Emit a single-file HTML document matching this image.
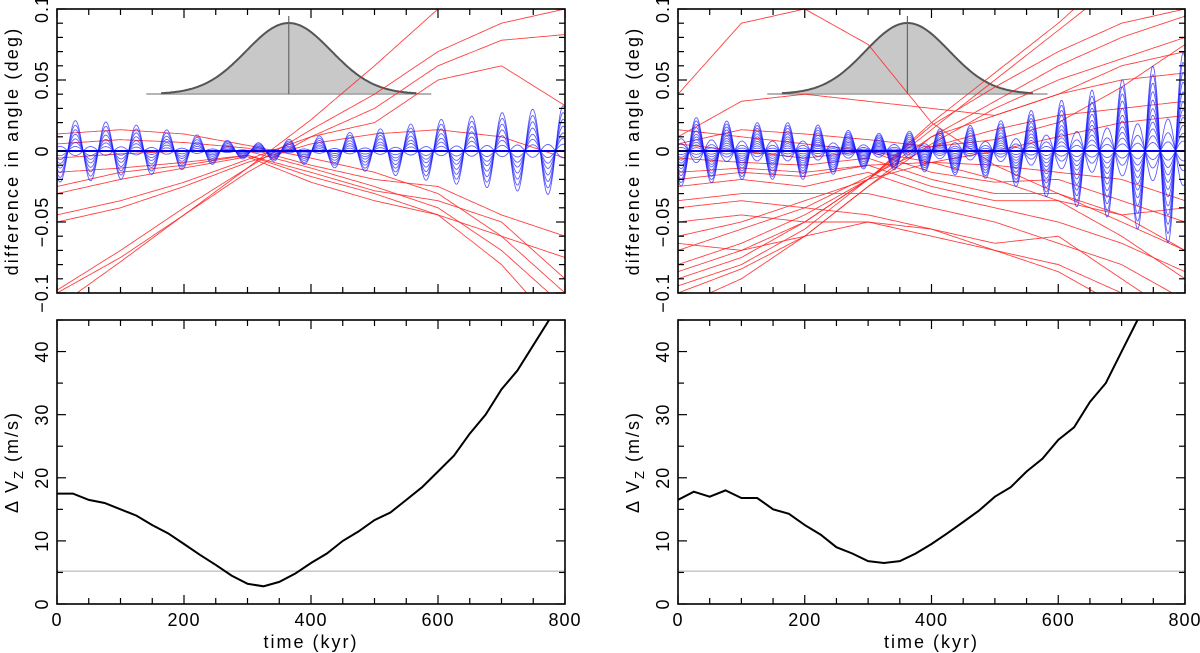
<!DOCTYPE html>
<html><head><meta charset="utf-8"><style>
html,body{margin:0;padding:0;background:#fff;}
svg{display:block;font-family:"Liberation Sans",sans-serif;}
</style></head><body>
<svg id="c" width="1200" height="653" viewBox="0 0 1200 653"></svg>
<script>
const times9=[0,100,200,300,400,500,600,700,800];
const leftRed=[
[-0.10,-0.075,-0.045,-0.012,0.022,0.06,0.10,0.14,0.18],
[-0.098,-0.07,-0.04,-0.012,0.015,0.04,0.07,0.09,0.10],
[-0.11,-0.078,-0.045,-0.015,0.01,0.03,0.06,0.078,0.082],
[-0.045,-0.035,-0.022,-0.006,0.01,0.02,0.05,0.06,0.032],
[-0.05,-0.04,-0.025,-0.008,0.005,0.012,0.015,0.01,-0.005],
[0.012,0.015,0.012,0.004,-0.005,-0.015,-0.03,-0.06,-0.10],
[0.005,0.008,0.006,0.002,-0.01,-0.02,-0.025,-0.045,-0.06],
[-0.005,-0.002,0.0,0.0,-0.012,-0.025,-0.04,-0.07,-0.11],
[-0.015,-0.012,-0.008,-0.003,-0.018,-0.03,-0.045,-0.08,-0.13],
[-0.03,-0.02,-0.012,-0.004,-0.022,-0.035,-0.045,-0.06,-0.075],
[-0.025,-0.015,-0.01,-0.003,-0.015,-0.028,-0.035,-0.05,-0.09]];
const rightRed=[
[0.04,0.09,0.1,0.12,0.14,0.16,0.18,0.2,0.22],
[0.12,0.105,0.1,0.075,0.02,-0.01,-0.03,-0.05,-0.07],
[0.01,0.035,0.04,0.035,0.03,0.025,0.04,0.06,0.07],
[0.005,0.015,0.012,0.008,0.003,0.008,0.02,0.045,0.075],
[-0.085,-0.07,-0.05,-0.02,0.015,0.05,0.085,0.12,0.15],
[-0.09,-0.075,-0.05,-0.02,0.02,0.055,0.09,0.13,0.16],
[-0.095,-0.08,-0.055,-0.02,0.018,0.045,0.07,0.09,0.1],
[-0.1,-0.083,-0.06,-0.025,0.01,0.035,0.06,0.08,0.095],
[-0.11,-0.09,-0.06,-0.025,0.005,0.03,0.05,0.065,0.08],
[-0.08,-0.065,-0.045,-0.02,0.01,0.025,0.04,0.05,0.055],
[-0.07,-0.055,-0.04,-0.018,0.003,0.015,0.025,0.03,0.035],
[-0.06,-0.05,-0.035,-0.02,-0.008,0.0,0.01,0.02,0.025],
[-0.05,-0.045,-0.05,-0.05,-0.06,-0.07,-0.08,-0.1,-0.13],
[-0.04,-0.035,-0.04,-0.045,-0.055,-0.065,-0.06,-0.09,-0.12],
[-0.025,-0.02,-0.025,-0.015,-0.03,-0.04,-0.05,-0.065,-0.085],
[-0.015,-0.012,-0.015,-0.01,-0.025,-0.035,-0.035,-0.06,-0.09],
[-0.005,-0.008,-0.01,-0.005,-0.02,-0.03,-0.03,-0.045,-0.07],
[0.005,0.0,-0.005,0.0,-0.015,-0.022,-0.02,-0.035,-0.05],
[-0.035,-0.03,-0.03,-0.03,-0.04,-0.05,-0.065,-0.08,-0.105],
[-0.065,-0.07,-0.06,-0.05,-0.055,-0.07,-0.085,-0.11,-0.14],
[0.015,0.01,0.005,0.0,-0.008,-0.02,-0.035,-0.045,-0.04],
[-0.02,-0.015,-0.018,-0.01,-0.008,-0.01,-0.015,-0.02,-0.035]];
const leftBlueEnv=[0.022,0.02,0.013,0.005,0.01,0.015,0.022,0.027,0.032];
const rightBlueEnv=[0.025,0.02,0.02,0.012,0.015,0.02,0.035,0.05,0.07];
const leftBlueScale=[1,0.85,0.7,0.55,0.4,0.28,0.15,-0.15];
const rightBlueScale=[1,0.9,0.8,0.7,0.6,0.5,0.42,0.34,0.26,0.18,0.1,-0.1,-0.2,-0.35];
const bluePeriod=[48];
const times25=[0,25,50,75,100,125,150,175,200,225,250,275,300,325,350,375,400,425,450,475,500,525,550,575,600,625,650,675,700,725,750,775,800];
const leftDV=[17.5,17.5,16.5,16,15,14,12.5,11.2,9.5,7.8,6.2,4.5,3.2,2.8,3.5,4.8,6.5,8,10,11.5,13.3,14.5,16.5,18.5,21,23.5,27,30,34,37,41,45,49];
const rightDV=[16.5,17.8,17,18,16.8,16.8,15,14.3,12.5,11,9,8,6.8,6.5,6.8,8,9.5,11.2,13,14.8,17,18.5,21,23,26,28,32,35,40,45,50,55,60];
const gaussMean=[365,362];
const gaussSigma=[67,66];
const thresholdDV=[5.2];
const xTicks=[0,200,400,600,800];
const topYTicks=[-0.1,-0.05,0,0.05,0.1];
const topYLabels=["\u22120.1","\u22120.05","0","0.05","0.1"];
const botYTicks=[0,10,20,30,40];

const NS="http://www.w3.org/2000/svg";
const svg=document.getElementById('c');
function el(tag,attrs,parent){const e=document.createElementNS(NS,tag);for(const k in attrs)e.setAttribute(k,attrs[k]);(parent||svg).appendChild(e);return e;}
function interp(xs,ys,x){if(x<=xs[0])return ys[0];for(let i=1;i<xs.length;i++){if(x<=xs[i]){const f=(x-xs[i-1])/(xs[i]-xs[i-1]);return ys[i-1]+f*(ys[i]-ys[i-1]);}}return ys[ys.length-1];}

const panels=[{x0:57,x1:565,side:'left',red:leftRed,env:leftBlueEnv,sc:leftBlueScale,dv:leftDV,g:0},
              {x0:678,x1:1185,side:'right',red:rightRed,env:rightBlueEnv,sc:rightBlueScale,dv:rightDV,g:1}];
const TY0=9,TY1=293,BY0=320,BY1=604;
const FS=18;

panels.forEach((p,pi)=>{
  const X=t=>p.x0+(t/800)*(p.x1-p.x0);
  const YT=v=>(TY0+TY1)/2-v*(TY1-TY0)/0.2;
  const YB=v=>BY1-v*(BY1-BY0)/45;
  const clipId='clipT'+pi, clipB='clipB'+pi;
  const defs=el('defs',{});
  const cp=el('clipPath',{id:clipId},defs);el('rect',{x:p.x0,y:TY0,width:p.x1-p.x0,height:TY1-TY0},cp);
  const cp2=el('clipPath',{id:clipB},defs);el('rect',{x:p.x0,y:BY0,width:p.x1-p.x0,height:BY1-BY0},cp2);

  const top=el('g',{'clip-path':'url(#'+clipId+')'});
  
  
  const m=gaussMean[p.g],s=gaussSigma[p.g];
  const gBase=94,gPeak=23;
  let d='';const gx0=m-3*s,gx1=m+3*s;
  for(let t=gx0;t<=gx1;t+=2){const v=Math.exp(-0.5*((t-m)/s)**2);d+=(d?'L':'M')+X(t).toFixed(1)+','+(gBase-v*(gBase-gPeak)).toFixed(1);}
  const ga=el('path',{d:d+'Z',fill:'#c8c8c8',stroke:'none'},top);
  
  const gb=el('line',{x1:X(m-3.35*s),x2:X(m+3.35*s),y1:gBase,y2:gBase,stroke:'#888','stroke-width':1.2},top);
  
  const gc=el('path',{d:d,fill:'none',stroke:'#555','stroke-width':2},top);
  
  const gm=el('line',{x1:X(m),x2:X(m),y1:16,y2:gBase,stroke:'#666','stroke-width':1.2},top);
  
  p.red.forEach((r,i)=>{
    let dd='';for(let t=0;t<=800;t+=4){dd+=(dd?'L':'M')+X(t).toFixed(1)+','+YT(interp(times9,r,t)).toFixed(1);}
    const e=el('path',{d:dd,fill:'none',stroke:'#ff2020','stroke-width':0.9,'stroke-opacity':0.85},top);
    
    
  });
  const zl=el('line',{x1:p.x0,x2:p.x1,y1:YT(0),y2:YT(0),stroke:'#999','stroke-width':1},top);
  
  p.sc.forEach((k,i)=>{
    let dd='';for(let t=0;t<=800;t+=1.5){const a=interp(times9,p.env,t);const v=-k*a*Math.cos(2*Math.PI*(t-5)/bluePeriod[0]);dd+=(dd?'L':'M')+X(t).toFixed(1)+','+YT(v).toFixed(1);}
    const e=el('path',{d:dd,fill:'none',stroke:'#1a1aff','stroke-width':0.9,'stroke-opacity':0.7},top);
    
    
  });
  const bz=el('line',{x1:p.x0,x2:p.x1,y1:YT(0),y2:YT(0),stroke:'#0000ee','stroke-width':2},top);
  

  const bot=el('g',{'clip-path':'url(#'+clipB+')'});
  
  
  const th=el('line',{x1:p.x0,x2:p.x1,y1:YB(thresholdDV[0]),y2:YB(thresholdDV[0]),stroke:'#aaa','stroke-width':1},bot);
  
  let dd='';times25.forEach((t,i)=>{dd+=(i?'L':'M')+X(t).toFixed(1)+','+YB(p.dv[i]).toFixed(1);});
  const dl=el('path',{d:dd,fill:'none',stroke:'#000','stroke-width':2},bot);
  

  [[TY0,TY1],[BY0,BY1]].forEach(([y0,y1],fi)=>{
    const f=el('rect',{x:p.x0,y:y0,width:p.x1-p.x0,height:y1-y0,fill:'none',stroke:'#000','stroke-width':1.6});
    
    for(let t=0;t<=800;t+=50){const len=t%200===0?9:6;
      el('line',{x1:X(t),x2:X(t),y1:y1,y2:y1-len,stroke:'#000','stroke-width':1.2});
      el('line',{x1:X(t),x2:X(t),y1:y0,y2:y0+len,stroke:'#000','stroke-width':1.2});}
  });
  for(let i=0;i<=20;i++){const v=-0.1+i*0.01;const len=(i%5===0)?9:6;
    el('line',{x1:p.x0,x2:p.x0+len,y1:YT(v),y2:YT(v),stroke:'#000','stroke-width':1.2});
    el('line',{x1:p.x1,x2:p.x1-len,y1:YT(v),y2:YT(v),stroke:'#000','stroke-width':1.2});}
  for(let v=0;v<=45;v+=5){const len=(v%10===0)?9:6;
    el('line',{x1:p.x0,x2:p.x0+len,y1:YB(v),y2:YB(v),stroke:'#000','stroke-width':1.2});
    el('line',{x1:p.x1,x2:p.x1-len,y1:YB(v),y2:YB(v),stroke:'#000','stroke-width':1.2});}
  topYTicks.forEach((v,i)=>{const t=el('text',{x:0,y:0,transform:`translate(${p.x0-9},${YT(v)}) rotate(-90)`,'text-anchor':'middle','font-size':FS,'letter-spacing':1});t.textContent=topYLabels[i];
    });
  botYTicks.forEach(v=>{const t=el('text',{x:0,y:0,transform:`translate(${p.x0-9},${YB(v)}) rotate(-90)`,'text-anchor':'middle','font-size':FS,'letter-spacing':1});t.textContent=String(v);
    });
  xTicks.forEach(v=>{const t=el('text',{x:X(v),y:626,'text-anchor':'middle','font-size':FS,'letter-spacing':1});t.textContent=String(v);
    });
  const xl=el('text',{x:(p.x0+p.x1)/2,y:648,'text-anchor':'middle','font-size':FS,'letter-spacing':2});xl.textContent='time  (kyr)';
  
  const yl=el('text',{x:0,y:0,transform:`translate(${p.x0-39},${(TY0+TY1)/2}) rotate(-90)`,'text-anchor':'middle','font-size':FS,'letter-spacing':2.2});yl.textContent='difference  in  angle  (deg)';
  
  const yb=el('text',{x:0,y:0,transform:`translate(${p.x0-39},${(BY0+BY1)/2}) rotate(-90)`,'text-anchor':'middle','font-size':FS,'letter-spacing':2});
  yb.innerHTML='\u0394  V<tspan font-size="13" dy="5">Z</tspan><tspan dy="-5">  (m/s)</tspan>';
  
});
</script>
</body></html>
